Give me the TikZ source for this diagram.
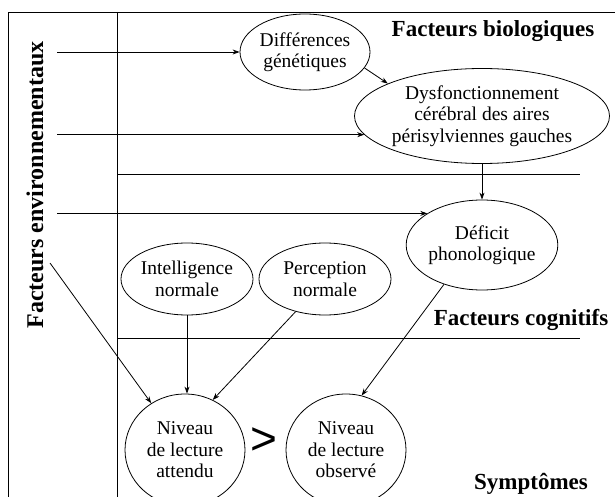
\documentclass[tikz,border=0pt]{standalone}
\usepackage{fontspec}
\setmainfont{Liberation Serif}
\newfontfamily\gtfont{Liberation Sans}
\usetikzlibrary{shapes.geometric,arrows.meta}
\tikzset{
  oval/.style={draw,ellipse,inner sep=0pt,align=center,line width=0.8pt,
    font=\fontsize{19.5}{21.5}\selectfont},
  arr/.style={-{Stealth[length=7pt,width=5pt]},line width=0.8pt},
  ln/.style={line width=0.9pt},
  lbl/.style={font=\fontsize{23}{26}\selectfont\bfseries,inner sep=0pt}
}
\begin{document}
\begin{tikzpicture}[x=1pt,y=-1pt]
\useasboundingbox (0,0) rectangle (615,497);
% frame
\draw[ln] (8,497) -- (8,12) -- (615,12);
\draw[ln] (117,12) -- (117,497);
\draw[ln] (117,174) -- (580,174);
\draw[ln] (117,338) -- (580,338);
% labels
\node[lbl,font=\fontsize{24}{26}\selectfont\bfseries,rotate=90] (env) at (35,185) {Facteurs environnementaux};
\node[lbl] (bio) at (493,31) {Facteurs biologiques};
\node[lbl] (cog) at (521,320) {Facteurs cognitifs};
\node[lbl] (sym) at (531,484) {Symptômes};
% nodes
\node[oval,minimum width=130pt,minimum height=76pt] (gen) at (305,52) {Différences\\génétiques};
\node[oval,minimum width=248pt,minimum height=95pt] (dys) at (482,116) {Dysfonctionnement\\cérébral des aires\\périsylviennes gauches};
\node[oval,minimum width=140pt,minimum height=90pt] (def) at (482,245) {Déficit\\phonologique};
\node[oval,minimum width=132pt,minimum height=72pt] (int) at (187,279) {Intelligence\\normale};
\node[oval,minimum width=132pt,minimum height=72pt] (per) at (325,279) {Perception\\normale};
\node[oval,minimum width=120pt,minimum height=112pt] (att) at (185,450) {Niveau\\de lecture\\attendu};
\node[oval,minimum width=120pt,minimum height=112pt] (obs) at (346,450) {Niveau\\de lecture\\observé};
\node[font=\fontsize{46}{46}\selectfont\gtfont,inner sep=0pt] (gt) at (264,441) {>};
% free ends
\coordinate (e1) at (57,52);
\coordinate (e2) at (57,134);
\coordinate (e3) at (57,215);
\coordinate (e4) at (50,263);
% connectors
\draw[arr] (e1) -- (gen.west);
\draw[arr] (gen.-15) -- (dys.161);
\draw[arr] (dys.189 -| e2) -- (dys.189);
\draw[arr] (dys.south) -- (def.north);
\draw[arr] (def.150 -| e3) -- (def.150);
\draw[arr] (e4) -- (att);
\draw[arr] (int.south) -- (int.south |- att.north);
\draw[arr] (per.228) -- (att.61);
\draw[arr] (def.226) -- (obs.74);
\end{tikzpicture}
\end{document}
